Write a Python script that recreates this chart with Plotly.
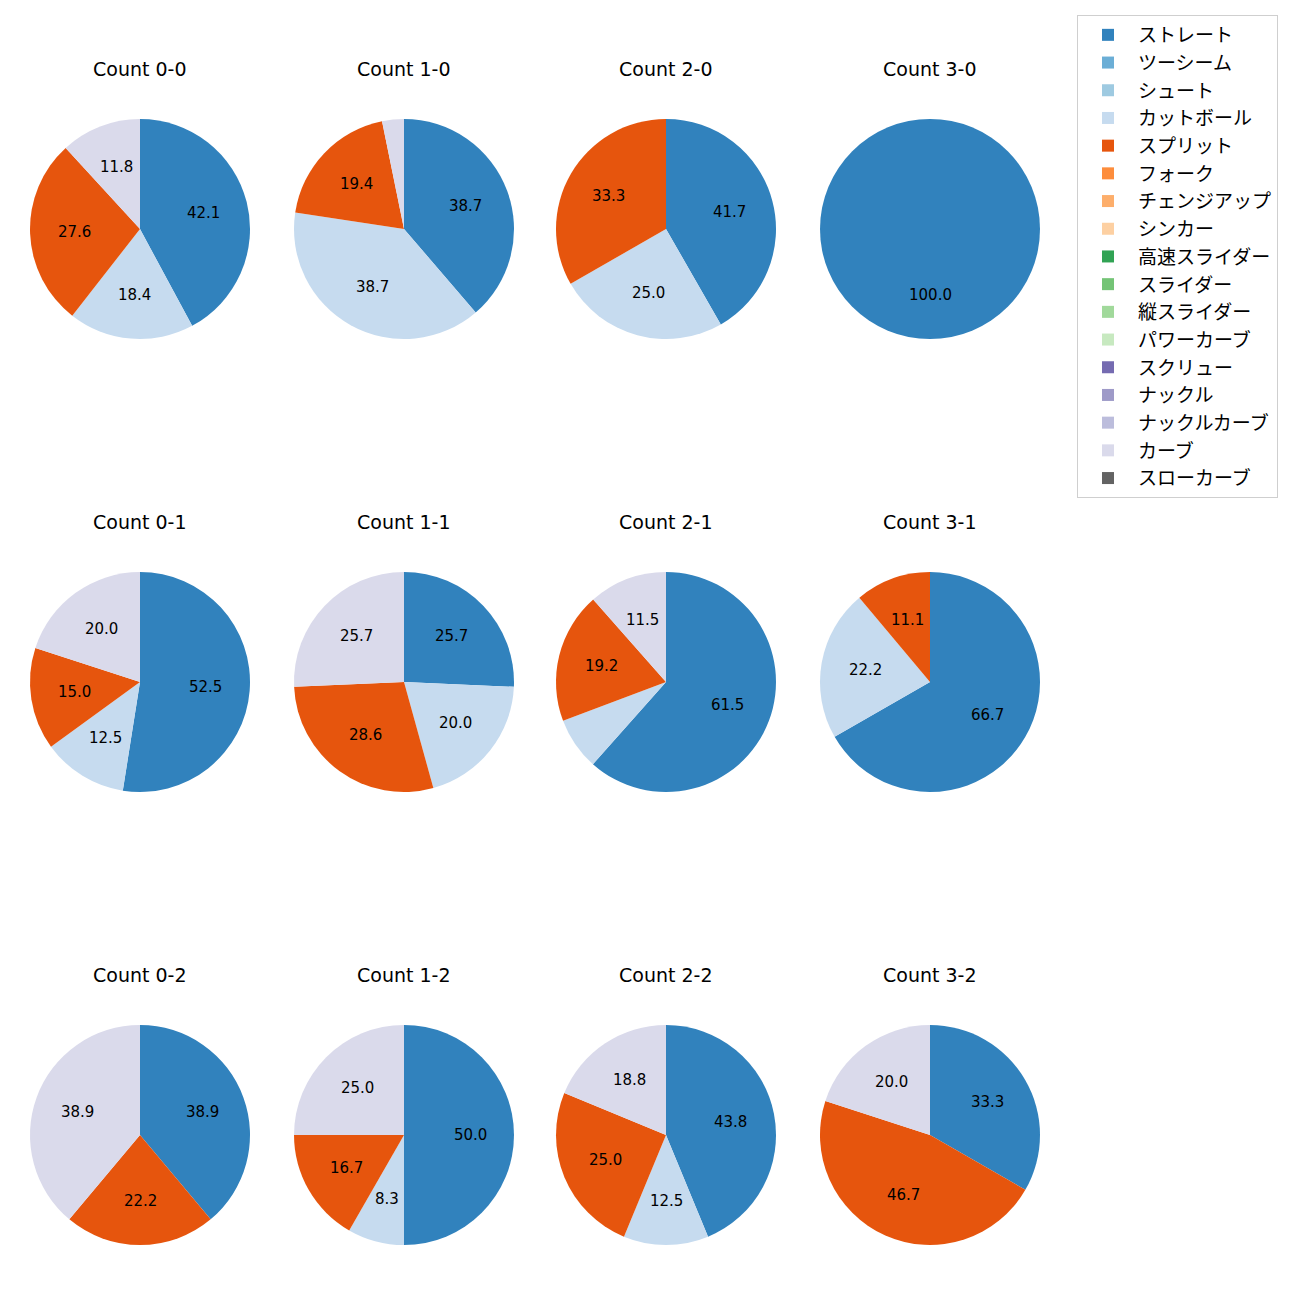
import math
import plotly.graph_objects as go

pitch_types = ["ストレート", "ツーシーム", "シュート", "カットボール", "スプリット", "フォーク",
               "チェンジアップ", "シンカー", "高速スライダー", "スライダー", "縦スライダー",
               "パワーカーブ", "スクリュー", "ナックル", "ナックルカーブ", "カーブ", "スローカーブ"]
colors = ["#3182bd", "#6baed6", "#9ecae1", "#c6dbef", "#e6550d", "#fd8d3c", "#fdae6b", "#fdd0a2",
          "#31a354", "#74c476", "#a1d99b", "#c7e9c0", "#756bb1", "#9e9ac8", "#bcbddc", "#dadaeb",
          "#636363"]

counts = ["0-0", "1-0", "2-0", "3-0",
          "0-1", "1-1", "2-1", "3-1",
          "0-2", "1-2", "2-2", "3-2"]

# percentages per count: ストレート, カットボール, スプリット, カーブ
straight = [42.1, 38.7, 41.7, 100.0, 52.5, 25.7, 61.5, 66.7, 38.9, 50.0, 43.8, 33.3]
cutter   = [18.4, 38.7, 25.0, 0.0, 12.5, 20.0, 7.7, 22.2, 0.0, 8.3, 12.5, 0.0]
splitter = [27.6, 19.4, 33.3, 0.0, 15.0, 28.6, 19.2, 11.1, 22.2, 16.7, 25.0, 46.7]
curve    = [11.8, 3.2, 0.0, 0.0, 20.0, 25.7, 11.5, 0.0, 38.9, 25.0, 18.8, 20.0]

W = H = 1300
OFF = 8  # page body margin
col_cx = [140 - OFF, 404 - OFF, 666 - OFF, 930 - OFF]
row_cy = [229 - OFF, 682 - OFF, 1135 - OFF]
R = 110
PCT_DIST = 0.6
MIN_LABEL = 8.0

fig = go.Figure()
annotations = []
for i, cnt in enumerate(counts):
    r, c = divmod(i, 4)
    vals = [0.0] * len(pitch_types)
    vals[pitch_types.index("ストレート")] = straight[i]
    vals[pitch_types.index("カットボール")] = cutter[i]
    vals[pitch_types.index("スプリット")] = splitter[i]
    vals[pitch_types.index("カーブ")] = curve[i]
    cx, cy = col_cx[c], row_cy[r]
    fig.add_trace(go.Pie(
        labels=pitch_types, values=vals, textinfo="none",
        marker=dict(colors=colors, line=dict(width=0)),
        sort=False, direction="clockwise", rotation=0,
        showlegend=(i == 0), hoverinfo="skip",
        domain=dict(x=[(cx - R) / W, (cx + R) / W], y=[1 - (cy + R) / H, 1 - (cy - R) / H]),
    ))
    # percentage labels placed like matplotlib autopct (pctdistance 0.6)
    total = sum(vals)
    cum = 0.0
    for v in vals:
        if v <= 0:
            continue
        mid = (cum + v / 2) / total
        cum += v
        if v < MIN_LABEL:
            continue
        ang = math.radians(90 - 360 * mid)
        px = cx + PCT_DIST * R * math.cos(ang)
        py = cy - PCT_DIST * R * math.sin(ang)
        annotations.append(dict(
            text=f"{v:.1f}", x=px / W, y=1 - py / H, xref="paper", yref="paper",
            showarrow=False, font=dict(size=15, color="black", family="DejaVu Sans"),
            xanchor="center", yanchor="middle"))
    annotations.append(dict(
        text=f"Count {cnt}", x=cx / W, y=1 - (cy - 160) / H, xref="paper", yref="paper",
        showarrow=False, font=dict(size=19, color="black", family="DejaVu Sans"),
        xanchor="center", yanchor="middle"))

fig.update_layout(
    width=W, height=H, margin=dict(l=0, r=0, t=0, b=0),
    paper_bgcolor="white", plot_bgcolor="white",
    annotations=annotations,
    legend=dict(x=(1077 - OFF) / W, y=1 - (15 - OFF) / H, xanchor="left", yanchor="top",
                bordercolor="#cfcfcf", borderwidth=1,
                font=dict(size=19, color="black", family="Noto Sans CJK JP"),
                traceorder="normal", itemwidth=50),
)
fig.write_html("out.html")
